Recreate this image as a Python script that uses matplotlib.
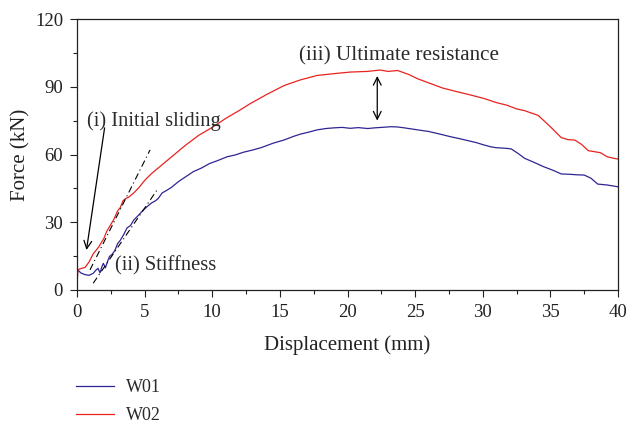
import matplotlib
matplotlib.use("Agg")
import matplotlib.pyplot as plt
from matplotlib.ticker import MultipleLocator

plt.rcParams['font.family'] = ['Liberation Serif', 'DejaVu Serif']

# W01 (blue) force-displacement
w01_disp = [0, 0.05, 0.3, 0.6, 0.9, 1.2, 1.4, 1.55, 1.7, 1.85, 1.95, 2.1, 2.25, 2.4, 2.6, 2.8,
            3.0, 3.2, 3.45, 3.7, 3.95, 4.2, 4.5, 4.9, 5.2, 5.5, 5.8, 6.0, 6.3, 6.6, 7.0, 7.5,
            8.0, 8.6, 9.2, 9.8, 10.4, 11.1, 11.7, 12.3, 13.0, 13.6, 14.5, 15.3, 16.0, 16.5,
            17.2, 17.75, 18.4, 19.0, 19.6, 20.2, 20.8, 21.5, 22.0, 22.5, 23.2, 23.7, 24.2,
            25.2, 26.0, 26.5, 27.0, 27.6, 28.3, 29.0, 29.5, 30.1, 30.6, 31.0, 31.6, 32.1,
            32.6, 33.1, 33.8, 34.5, 35.2, 35.8, 36.5, 37.0, 37.5, 38.0, 38.5, 39.2, 40.0]
w01_force = [0, 8.9, 7.5, 6.8, 6.5, 7.4, 8.8, 9.6, 7.6, 10.5, 11.8, 9.8, 12.5, 14.8, 15.8, 17.5,
             20.5, 22.0, 24.5, 27.5, 28.5, 31.0, 32.8, 35.4, 37.0, 38.5, 39.5, 40.5, 43.0, 44.0, 45.5, 48.0,
             50.0, 52.4, 54.0, 56.0, 57.3, 59.0, 59.8, 61.0, 62.0, 63.0, 65.0, 66.4, 68.0, 69.0,
             70.0, 70.9, 71.5, 71.8, 72.0, 71.6, 71.9, 71.5, 71.8, 72.0, 72.3, 72.2, 71.8,
             70.9, 70.2, 69.5, 68.8, 67.9, 67.0, 66.0, 65.3, 64.2, 63.4, 63.0, 62.8, 62.5,
             60.5, 58.3, 56.5, 54.6, 53.0, 51.4, 51.2, 51.0, 50.9, 49.5, 46.9, 46.5, 45.7]

# W02 (red) force-displacement
w02_disp = [0, 0.05, 0.3, 0.6, 0.9, 1.2, 1.6, 2.0, 2.2, 2.4, 2.7, 3.0, 3.2, 3.4, 3.6, 3.8,
            4.2, 4.6, 5.0, 5.5, 6.2, 7.0, 8.0, 9.0, 10.0, 11.0, 12.0, 12.8, 14.0, 15.3,
            16.5, 17.75, 19.0, 20.2, 21.5, 22.4, 23.0, 23.7, 24.5, 25.2, 26.1, 27.0, 28.1,
            29.0, 30.1, 31.0, 31.8, 32.5, 33.1, 34.1, 35.0, 35.8, 36.3, 36.8, 37.3, 37.8,
            38.7, 39.2, 39.7, 40.0]
w02_force = [0, 9.0, 9.5, 10.0, 12.5, 16.0, 19.0, 23.0, 26.0, 28.0, 31.0, 35.0, 36.5, 39.5, 40.5, 41.0,
             43.0, 45.5, 48.5, 51.5, 55.0, 59.0, 64.0, 68.5, 72.0, 76.0, 79.5, 82.5, 86.5, 90.5,
             93.0, 95.0, 95.8, 96.5, 96.8, 97.4, 96.8, 97.2, 95.5, 93.5, 91.5, 89.5, 87.8,
             86.5, 84.8, 83.0, 81.8, 80.2, 79.4, 77.3, 72.3, 67.5, 66.6, 66.4, 64.5, 61.7,
             60.8, 59.0, 58.3, 58.0]

series_labels = ["W01", "W02"]
series_colors = ["#2e2593", "#e8231f"]

# stiffness tangent lines (displacement, force)
tan_red_disp = [0.96, 5.4]
tan_red_force = [8.9, 62.0]
tan_blue_disp = [1.2, 6.0]
tan_blue_force = [3.0, 45.0]

fig = plt.figure(figsize=(6.29, 4.24), dpi=100)
ax = fig.add_axes([77/629, 1-290/424, (618-77)/629, (290-19)/424])

l1, = ax.plot(w01_disp, w01_force, color=series_colors[0], lw=0.9, label=series_labels[0])
l2, = ax.plot(w02_disp, w02_force, color=series_colors[1], lw=0.9, label=series_labels[1])

ax.plot(tan_red_disp, tan_red_force, color='black', lw=0.8, ls=(0, (6, 3, 1, 3)))
ax.plot(tan_blue_disp, tan_blue_force, color='black', lw=0.8, ls=(0, (6, 3, 1, 3)))

ax.set_xlim(0, 40)
ax.set_ylim(0, 120)
ax.xaxis.set_major_locator(MultipleLocator(5))
ax.xaxis.set_minor_locator(MultipleLocator(2.5))
ax.yaxis.set_major_locator(MultipleLocator(30))
ax.yaxis.set_minor_locator(MultipleLocator(15))
ax.tick_params(which='both', direction='out', labelsize=13.5, colors='#222222')
ax.tick_params(which='major', length=5, width=0.8)
ax.tick_params(which='minor', length=3, width=0.8)
ax.tick_params(axis='x', which='major', pad=5)
ax.tick_params(axis='y', which='major', pad=5)
for s in ax.spines.values():
    s.set_linewidth(0.9)
    s.set_color('#222222')

ax.set_xlabel("Displacement (mm)", fontsize=15, color='#222222', labelpad=10)
ax.set_ylabel("Force (kN)", fontsize=15, color='#222222', labelpad=3)

txtc = '#2a2a2a'
ax.annotate("", xy=(0.67, 16.5), xytext=(2.07, 73.0),
            arrowprops=dict(arrowstyle='->', color='black', lw=0.9, mutation_scale=14))
ax.text(0.72, 74.8, "(i) Initial sliding", fontsize=14.8, color=txtc, va='center', ha='left')
ax.text(2.8, 10.8, "(ii) Stiffness", fontsize=14.8, color=txtc, va='center', ha='left')
ax.text(16.4, 103.8, "(iii) Ultimate resistance", fontsize=15.2, color=txtc, va='center', ha='left')
ax.annotate("", xy=(22.2, 96.0), xytext=(22.2, 73.8),
            arrowprops=dict(arrowstyle='<->', color='black', lw=0.9, mutation_scale=14))

fig.legend(handles=[l1, l2], labels=series_labels, loc='upper left',
           bbox_to_anchor=(60/629, 1-363/424), frameon=False, fontsize=13,
           handlelength=2.1, handletextpad=0.65, labelspacing=0.62, labelcolor=txtc)

fig.savefig("out.png", dpi=100)
